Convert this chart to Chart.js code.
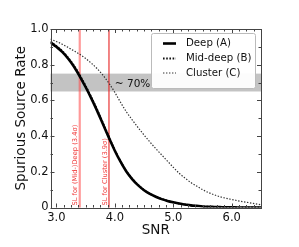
<!DOCTYPE html>
<html>
<head>
<meta charset="utf-8">
<script src="https://cdn.jsdelivr.net/npm/chart.js@4"></script>
<style>
  body { margin: 0; background: #fff; }
</style>
</head>
<body>
<canvas id="chart" width="299" height="247"></canvas>
<script>
// values
const snr = [2.9, 3.0, 3.1, 3.2, 3.3, 3.4, 3.5, 3.6, 3.7, 3.8, 3.9, 4.0, 4.1, 4.2, 4.3, 4.4, 4.5, 4.6, 4.7,
  4.8, 4.9, 5.0, 5.1, 5.2, 5.3, 5.4, 5.5, 5.6, 5.7, 5.8, 5.9, 6.0, 6.1, 6.2, 6.3, 6.4, 6.5];
const deepA = [0.925, 0.90, 0.872, 0.835, 0.79, 0.735, 0.675, 0.61, 0.54, 0.465, 0.39, 0.318, 0.255, 0.20,
  0.158, 0.124, 0.097, 0.076, 0.06, 0.047, 0.037, 0.029, 0.022, 0.017, 0.012, 0.009, 0.006, 0.004, 0.003,
  0.002, 0.001, 0.001, 0, 0, 0, 0, 0];
const midDeepB = [0.93, 0.905, 0.877, 0.84, 0.796, 0.742, 0.682, 0.617, 0.547, 0.471, 0.396, 0.322, 0.258,
  0.203, 0.16, 0.126, 0.098, 0.077, 0.061, 0.048, 0.038, 0.029, 0.022, 0.017, 0.012, 0.009, 0.006, 0.004,
  0.003, 0.002, 0.001, 0.001, 0, 0, 0, 0, 0];
const clusterC = [0.943, 0.93, 0.915, 0.897, 0.878, 0.858, 0.835, 0.808, 0.777, 0.74, 0.696, 0.645, 0.588,
  0.535, 0.49, 0.447, 0.406, 0.367, 0.33, 0.295, 0.26, 0.225, 0.192, 0.165, 0.14, 0.12, 0.10, 0.084, 0.071,
  0.06, 0.052, 0.045, 0.038, 0.032, 0.027, 0.021, 0.015];
const seriesNames = ['Deep (A)', 'Mid-deep (B)', 'Cluster (C)'];
const slValues = [3.4, 3.9];
const slLabels = ['SL for (Mid-)Deep (3.4\u03c3)', 'SL for Cluster (3.9\u03c3)'];
const band = [0.65, 0.75];
const bandLabel = '~ 70%';
const bandLabelAt = [4.0, 0.69];

Chart.defaults.font.family = '"DejaVu Sans", sans-serif';
Chart.defaults.color = '#111';

const pts = ys => snr.map((x, i) => ({ x: x, y: ys[i] }));

const styles = [
  { borderColor: '#000', borderWidth: 2.6, borderDash: [] },
  { borderColor: '#111', borderWidth: 1.8, borderDash: [1.6, 1.6] },
  { borderColor: '#333', borderWidth: 1.2, borderDash: [1.4, 1.6] }
];

const decor = {
  id: 'decor',
  beforeDatasetsDraw(chart) {
    const { ctx, chartArea: a, scales: { x, y } } = chart;
    ctx.save();
    // grey band
    const yTop = y.getPixelForValue(band[1]);
    const yBot = y.getPixelForValue(band[0]);
    ctx.fillStyle = '#c3c3c3';
    ctx.fillRect(a.left, yTop, a.right - a.left, yBot - yTop);
    // significance lines and their labels
    slValues.forEach((v, i) => {
      const px = x.getPixelForValue(v);
      ctx.beginPath();
      ctx.moveTo(px, a.top);
      ctx.lineTo(px, a.bottom);
      ctx.strokeStyle = i === 0 ? 'rgba(255,70,70,0.55)' : 'rgba(230,30,30,0.9)';
      ctx.lineWidth = i === 0 ? 2.2 : 1.2;
      ctx.stroke();
      ctx.save();
      ctx.translate(px - 4, a.bottom - 2);
      ctx.rotate(-Math.PI / 2);
      ctx.fillStyle = '#f03a3a';
      ctx.font = '6.7px "DejaVu Sans"';
      ctx.textAlign = 'left';
      ctx.textBaseline = 'middle';
      ctx.fillText(slLabels[i], 0, 0);
      ctx.restore();
    });
    ctx.restore();
  },
  afterDatasetsDraw(chart) {
    const { ctx, chartArea: a, scales: { x, y } } = chart;
    ctx.save();
    // band label
    ctx.fillStyle = '#111';
    ctx.font = '10.5px "DejaVu Sans"';
    ctx.textAlign = 'left';
    ctx.textBaseline = 'middle';
    ctx.fillText(bandLabel, x.getPixelForValue(bandLabelAt[0]), y.getPixelForValue(bandLabelAt[1]));
    // frame
    ctx.strokeStyle = '#444';
    ctx.lineWidth = 1;
    ctx.strokeRect(Math.round(a.left) + 0.5, Math.round(a.top) + 0.5,
      Math.round(a.right - a.left) - 1, Math.round(a.bottom - a.top));
    // inward ticks
    ctx.beginPath();
    x.ticks.forEach(t => {
      const px = Math.round(x.getPixelForValue(t.value)) + 0.5;
      const len = Number.isInteger(Math.round(t.value * 1000) / 1000) ? 4 : 2.5;
      ctx.moveTo(px, a.bottom); ctx.lineTo(px, a.bottom - len);
      ctx.moveTo(px, a.top); ctx.lineTo(px, a.top + len);
    });
    y.ticks.forEach(t => {
      const py = Math.round(y.getPixelForValue(t.value)) + 0.5;
      const len = Math.round(t.value * 10) % 2 === 0 ? 4 : 2.5;
      ctx.moveTo(a.left, py); ctx.lineTo(a.left + len, py);
      ctx.moveTo(a.right, py); ctx.lineTo(a.right - len, py);
    });
    ctx.stroke();
    ctx.restore();
  },
  afterDraw(chart) {
    const { ctx } = chart;
    ctx.save();
    // legend box
    ctx.beginPath();
    ctx.roundRect(151.5, 33.5, 104, 55, 2);
    ctx.fillStyle = 'rgba(255,255,255,0.95)';
    ctx.fill();
    ctx.strokeStyle = '#bbb';
    ctx.lineWidth = 1;
    ctx.stroke();
    const rows = [43.5, 58.5, 73];
    ctx.font = '10.2px "DejaVu Sans"';
    ctx.textAlign = 'left';
    ctx.textBaseline = 'middle';
    seriesNames.forEach((name, i) => {
      ctx.beginPath();
      ctx.moveTo(163, rows[i]);
      ctx.lineTo(176, rows[i]);
      ctx.strokeStyle = styles[i].borderColor;
      ctx.lineWidth = styles[i].borderWidth;
      ctx.setLineDash(styles[i].borderDash);
      ctx.stroke();
      ctx.setLineDash([]);
      ctx.fillStyle = '#111';
      ctx.fillText(name, 186, rows[i]);
    });
    ctx.restore();
  }
};

new Chart(document.getElementById('chart'), {
  type: 'line',
  data: {
    datasets: [
      { label: seriesNames[0], data: pts(deepA), ...styles[0] },
      { label: seriesNames[1], data: pts(midDeepB), ...styles[1] },
      { label: seriesNames[2], data: pts(clusterC), ...styles[2] }
    ]
  },
  options: {
    responsive: false,
    animation: false,
    devicePixelRatio: 1,
    layout: { padding: { top: 29, right: 38, left: 0, bottom: 0 } },
    elements: { point: { radius: 0 }, line: { cubicInterpolationMode: 'monotone', fill: false } },
    plugins: { legend: { display: false }, tooltip: { enabled: false } },
    scales: {
      x: {
        type: 'linear',
        min: 2.9,
        max: 6.5,
        afterFit: s => { s.height = 39.5; },
        afterBuildTicks: s => {
          const t = [];
          for (let k = 0; 3 + k * 0.125 <= 6.5 + 1e-9; k++) t.push({ value: 3 + k * 0.125 });
          s.ticks = t;
        },
        grid: { display: false, drawTicks: false },
        border: { display: false },
        ticks: {
          autoSkip: false,
          maxRotation: 0,
          padding: 4,
          font: { size: 11.5 },
          color: '#111',
          callback: v => Math.abs(v - Math.round(v)) < 1e-6 ? v.toFixed(1) : ''
        },
        title: { display: true, text: 'SNR', font: { size: 13.5 }, color: '#111', padding: { top: 0, bottom: 8.4 } }
      },
      y: {
        min: 0,
        max: 1,
        afterFit: s => { s.width = 50.5; },
        grid: { display: false, drawTicks: false },
        border: { display: false },
        ticks: {
          stepSize: 0.1,
          autoSkip: false,
          padding: 2,
          font: { size: 11.5 },
          color: '#111',
          callback: v => {
            const k = Math.round(v * 10);
            if (k % 2 !== 0) return '';
            return k === 0 ? '0' : (k / 10).toFixed(1);
          }
        },
        title: { display: true, text: 'Spurious Source Rate', font: { size: 13.5 }, color: '#111', padding: { top: 13, bottom: 0 } }
      }
    }
  },
  plugins: [decor]
});
</script>
</body>
</html>
